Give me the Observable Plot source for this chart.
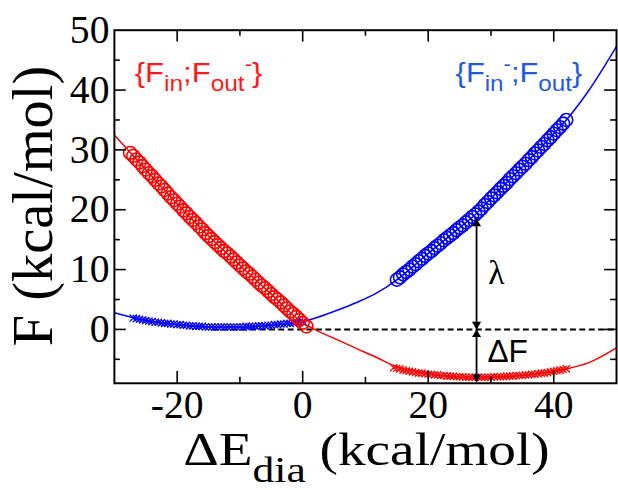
<!DOCTYPE html>
<html><head><meta charset="utf-8">
<script src="https://cdn.jsdelivr.net/npm/d3@7"></script>
<script src="https://cdn.jsdelivr.net/npm/@observablehq/plot@0.6"></script>
<style>
html,body{margin:0;padding:0;background:#fff;overflow:hidden;}
#chart{width:618px;height:490px;overflow:hidden;position:relative;}
</style></head><body><div id="chart"></div>
<script>
// ---- data ----
const xDomain = [-30, 50];
const yDomain = [-9, 50];
const xMajor = [-20, 0, 20, 40];
const xMinor = [-10, 10, 30];
const yMajor = [0, 10, 20, 30, 40];
const yMinor = [-5, 5, 15, 25, 35, 45];
const xTickLabels = [-20, 0, 20, 40];
const yTickLabels = [0, 10, 20, 30, 40, 50];

// fitted curves
const redLineX = [-30, -25, -20, -15, -10, -5, 0, 2.3, 5.5, 8.6, 11.8, 14.4, 17, 20, 25, 27.6, 30, 35, 40, 42, 45.5, 50];
const redLineF = [32.5, 26.7, 21.0, 15.6, 10.7, 5.9, 1.1, -0.2, -1.7, -3.2, -4.7, -6.0, -6.8, -7.4, -8.0, -8.1, -8.0, -7.7, -7.0, -6.6, -5.6, -3.1];
const blueLineX = [-30, -25, -20, -15, -10, -5, 0, 2.3, 5.5, 8.6, 11.8, 14.9, 20, 25, 27.6, 30, 35, 40, 42, 45.5, 50];
const blueLineF = [2.8, 1.5, 0.8, 0.4, 0.4, 0.7, 1.3, 2.0, 3.2, 4.5, 6.1, 8.2, 12.7, 17.0, 19.3, 21.9, 27.2, 32.7, 35.0, 39.8, 47.3];

// {F_in;F_out-} circles
const redCircX = [-27.5,-27,-26.5,-26,-25.5,-25,-24.5,-24,-23.5,-23,-22.5,-22,-21.5,-21,-20.5,-20,-19.5,-19,-18.5,-18,-17.5,-17,-16.5,-16,-15.5,-15,-14.5,-14,-13.5,-13,-12.5,-12,-11.5,-11,-10.5,-10,-9.5,-9,-8.5,-8,-7.5,-7,-6.5,-6,-5.5,-5,-4.5,-4,-3.5,-3,-2.5,-2,-1.5,-1,-0.5,0,0.6];
const redCircF = [29.5,29.0,28.4,27.9,27.3,26.7,26.1,25.6,25.0,24.4,23.9,23.3,22.7,22.1,21.6,21.0,20.5,19.9,19.4,18.8,18.3,17.8,17.2,16.7,16.1,15.6,15.1,14.6,14.1,13.6,13.1,12.7,12.2,11.7,11.2,10.7,10.2,9.7,9.3,8.8,8.3,7.8,7.3,6.9,6.4,5.9,5.4,5.0,4.5,4.0,3.5,3.0,2.6,2.1,1.6,1.1,0.5];
// {F_in-;F_out} circles
const blueCircX = [15,15.5,16,16.5,17,17.5,18,18.5,19,19.5,20,20.5,21,21.5,22,22.5,23,23.5,24,24.5,25,25.5,26,26.5,27,27.5,28,28.5,29,29.5,30,30.5,31,31.5,32,32.5,33,33.5,34,34.5,35,35.5,36,36.5,37,37.5,38,38.5,39,39.5,40,40.5,41,41.5,42];
const blueCircF = [8.3,8.7,9.2,9.6,10.0,10.5,10.9,11.4,11.8,12.3,12.7,13.1,13.6,14.0,14.4,14.9,15.3,15.7,16.1,16.6,17.0,17.4,17.9,18.3,18.8,19.2,19.7,20.2,20.8,21.3,21.9,22.4,22.9,23.5,24.0,24.5,25.1,25.6,26.1,26.7,27.2,27.7,28.3,28.8,29.4,29.9,30.5,31.0,31.6,32.1,32.7,33.3,33.8,34.4,35.0];
// crosses
const blueCrossX = [-27,-26.5,-26,-25.5,-25,-24.5,-24,-23.5,-23,-22.5,-22,-21.5,-21,-20.5,-20,-19.5,-19,-18.5,-18,-17.5,-17,-16.5,-16,-15.5,-15,-14.5,-14,-13.5,-13,-12.5,-12,-11.5,-11,-10.5,-10,-9.5,-9,-8.5,-8,-7.5,-7,-6.5,-6,-5.5,-5,-4.5,-4,-3.5,-3,-2.5,-2,-1.5,-1,-0.5,0];
const blueCrossF = [1.9,1.8,1.7,1.6,1.5,1.4,1.3,1.2,1.2,1.1,1.0,1.0,0.9,0.9,0.8,0.8,0.7,0.7,0.6,0.6,0.5,0.5,0.5,0.4,0.4,0.4,0.4,0.4,0.4,0.4,0.4,0.4,0.4,0.4,0.4,0.4,0.5,0.5,0.5,0.5,0.6,0.6,0.6,0.7,0.7,0.8,0.8,0.9,0.9,1.0,1.0,1.1,1.2,1.2,1.3];
const redCrossX = [14.5,15,15.5,16,16.5,17,17.5,18,18.5,19,19.5,20,20.5,21,21.5,22,22.5,23,23.5,24,24.5,25,25.5,26,26.5,27,27.5,28,28.5,29,29.5,30,30.5,31,31.5,32,32.5,33,33.5,34,34.5,35,35.5,36,36.5,37,37.5,38,38.5,39,39.5,40,40.5,41,41.5,42];
const redCrossF = [-6.4,-6.5,-6.6,-6.8,-6.9,-7.0,-7.1,-7.2,-7.3,-7.3,-7.4,-7.5,-7.5,-7.6,-7.6,-7.7,-7.7,-7.8,-7.8,-7.8,-7.9,-7.9,-7.9,-8.0,-8.0,-8.0,-8.0,-8.0,-8.0,-8.0,-8.0,-8.0,-7.9,-7.9,-7.9,-7.9,-7.8,-7.8,-7.8,-7.7,-7.7,-7.7,-7.6,-7.6,-7.5,-7.5,-7.4,-7.3,-7.3,-7.2,-7.1,-7.0,-6.9,-6.8,-6.7,-6.6];

// annotations
const dashStartX = -14.3;
const arrowX = 27.7;
const lambdaTop = 18.5;
const deltaF = -8.8;
const lambdaLabel = {x: 27.7, y: 9.4, text: "λ"};
const deltaFLabel = {x: 27.7, y: -3.8, text: "ΔF"};

const RED = "#ff0000", BLUE = "#0000ff";
const RED_TXT = "#ff1a1a", BLUE_TXT = "#1f5ae6";

// ---- layout ----
const W = 624, H = 490, mL = 115, mR = 2, mT = 30, mB = 103.5;
const innerW = W - mL - mR, innerH = H - mT - mB;
const MAJ = 12, MIN = 6;
const rows = (xs, ys) => xs.map((x, i) => ({x, y: ys[i]}));

const tickStyle = {stroke: "black", strokeWidth: 1.6};
const plot = Plot.plot({
  width: W, height: H, marginLeft: mL, marginRight: mR, marginTop: mT, marginBottom: mB,
  x: {domain: xDomain}, y: {domain: yDomain},
  style: {fontFamily: "'Liberation Serif','Times New Roman',serif", fontSize: "40px", color: "black", background: "white", overflow: "visible"},
  marks: [
    Plot.ruleY([0], {x1: dashStartX, x2: xDomain[1], stroke: "black", strokeWidth: 2, strokeDasharray: "6,3.5"}),
    Plot.line(rows(redLineX, redLineF), {x: "x", y: "y", stroke: RED, strokeWidth: 1.5, curve: "monotone-x", clip: true}),
    Plot.line(rows(blueLineX, blueLineF), {x: "x", y: "y", stroke: BLUE, strokeWidth: 1.5, curve: "monotone-x", clip: true}),
    Plot.dot(rows(blueCrossX, blueCrossF), {x: "x", y: "y", symbol: "times", r: 3.4, stroke: BLUE, strokeWidth: 1.3}),
    Plot.dot(rows(redCircX, redCircF), {x: "x", y: "y", r: 6.5, stroke: RED, strokeWidth: 1.6, fill: "none"}),
    Plot.dot(rows(blueCircX, blueCircF), {x: "x", y: "y", r: 6.5, stroke: BLUE, strokeWidth: 1.6, fill: "none"}),
    Plot.dot(rows(redCrossX, redCrossF), {x: "x", y: "y", symbol: "times", r: 3.4, stroke: RED, strokeWidth: 1.3}),
    // arrows
    Plot.ruleX([arrowX], {y1: 0, y2: lambdaTop, stroke: "black", strokeWidth: 1.8}),
    Plot.ruleX([arrowX], {y1: 0, y2: deltaF, stroke: "black", strokeWidth: 1.8}),
    Plot.dot([lambdaTop, 0], {x: () => arrowX, y: d => d, symbol: "triangle", r: 3.4, fill: "black", stroke: "none", dy: 5}),
    Plot.dot([0, deltaF], {x: () => arrowX, y: d => d, symbol: "triangle", r: 3.4, fill: "black", stroke: "none", rotate: 180, dy: -5}),
    Plot.text([lambdaLabel], {x: "x", y: "y", text: "text", dx: 20, fontSize: 34, fontFamily: "'Liberation Serif',serif"}),
    Plot.text([deltaFLabel], {x: "x", y: "y", text: "text", dx: 11, textAnchor: "start", fontSize: 32, fontFamily: "'Liberation Sans',Arial,sans-serif"}),
    // inward ticks on all four sides
    Plot.tickX(xMajor, {insetTop: innerH - MAJ, ...tickStyle}),
    Plot.tickX(xMajor, {insetBottom: innerH - MAJ, ...tickStyle}),
    Plot.tickX(xMinor, {insetTop: innerH - MIN, ...tickStyle}),
    Plot.tickX(xMinor, {insetBottom: innerH - MIN, ...tickStyle}),
    Plot.tickY(yMajor, {insetRight: innerW - MAJ, ...tickStyle}),
    Plot.tickY(yMajor, {insetLeft: innerW - MAJ, ...tickStyle}),
    Plot.tickY(yMinor, {insetRight: innerW - MIN, ...tickStyle}),
    Plot.tickY(yMinor, {insetLeft: innerW - MIN, ...tickStyle}),
    Plot.frame({stroke: "black", strokeWidth: 2}),
    Plot.axisX(xTickLabels, {tickSize: 0, tickPadding: 7, tickFormat: d => String(d), label: null}),
    Plot.axisY(yTickLabels, {tickSize: 0, tickPadding: 5, tickFormat: d => String(d), label: null})
  ]
});
document.getElementById("chart").appendChild(plot);
const svg = d3.select(plot);

// stretch a text horizontally about its start so that it spans `target` pixels
function fitWidth(t, x0, target) {
  const bb = t.node().getBBox();
  const s = target / bb.width;
  t.attr("transform", `translate(${x0},0) scale(${s},1) translate(${-x0},0)`);
}

// axis titles
svg.append("text")
  .attr("transform", "translate(53,208) rotate(-90)")
  .attr("text-anchor", "middle")
  .style("font-family", "'Liberation Serif','Times New Roman',serif")
  .style("font-size", "57px").attr("fill", "black")
  .text("F (kcal/mol)");
const xt = svg.append("text").attr("x", 185).attr("y", 470)
  .attr("text-anchor", "start")
  .style("font-family", "'Liberation Serif','Times New Roman',serif")
  .style("font-size", "47px").attr("fill", "black");
xt.append("tspan").text("ΔE");
xt.append("tspan").attr("dy", 17).style("font-size", "37px").text("dia");
xt.append("tspan").attr("dy", -17).text("\u00a0(kcal/mol)");
fitWidth(xt, 185, 370);

// series labels
function seriesLabel(x0, base, parts, color, target) {
  const t = svg.append("text").attr("x", x0).attr("y", base).attr("fill", color)
    .attr("text-anchor", "start")
    .style("font-family", "'Liberation Sans',Arial,sans-serif");
  let cur = 0;
  for (const p of parts) {
    t.append("tspan").attr("dy", p.off - cur).style("font-size", p.size + "px").text(p.t);
    cur = p.off;
  }
  fitWidth(t, x0, target);
}
seriesLabel(136, 83, [
  {t: "{F", size: 28, off: 0}, {t: "in", size: 22, off: 9}, {t: ";F", size: 28, off: 0},
  {t: "out", size: 22, off: 9}, {t: "-", size: 20, off: -11}, {t: "}", size: 28, off: 0}
], RED_TXT, 129);
seriesLabel(460, 83, [
  {t: "{F", size: 28, off: 0}, {t: "in", size: 22, off: 9}, {t: "-", size: 20, off: -11},
  {t: ";F", size: 28, off: 0}, {t: "out", size: 22, off: 9}, {t: "}", size: 28, off: 0}
], BLUE_TXT, 128);
</script>
</body></html>
